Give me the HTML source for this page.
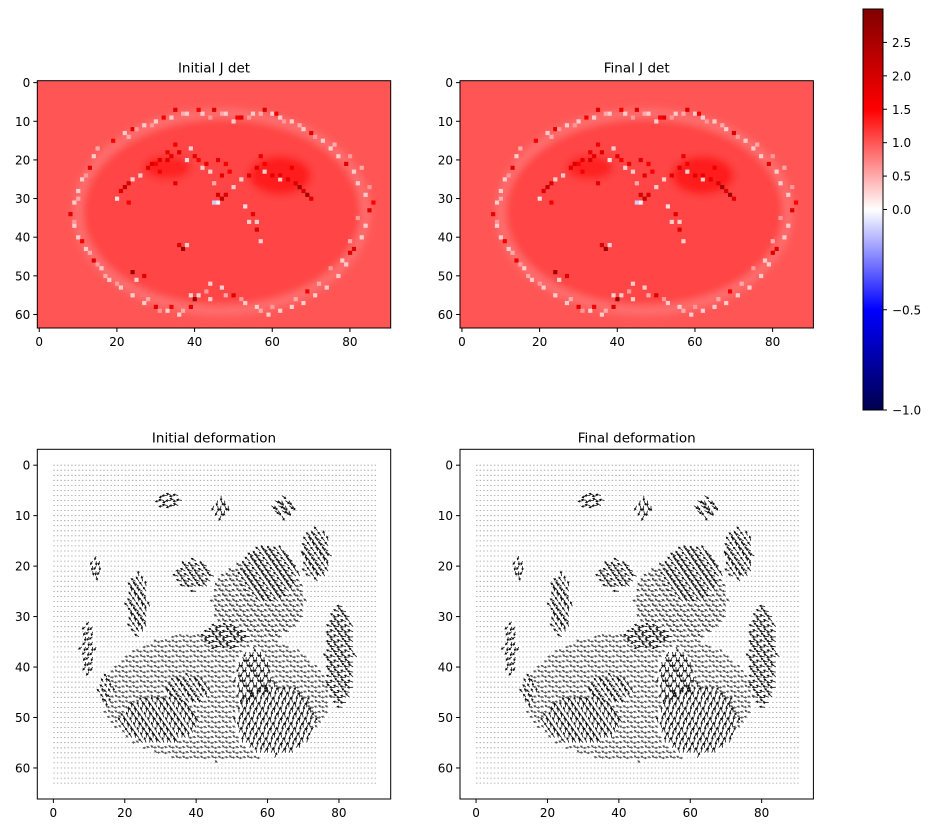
<!DOCTYPE html>
<html><head><meta charset="utf-8">
<style>
html,body{margin:0;padding:0;background:#fff;}
svg{display:block;font-family:"DejaVu Sans","Liberation Sans",sans-serif;}
</style></head>
<body>
<svg id="fig" width="935" height="833" viewBox="0 0 935 833" xmlns="http://www.w3.org/2000/svg">
<defs>
<linearGradient id="cbgrad" x1="0" y1="0" x2="0" y2="1">
<stop offset="0" stop-color="#800000"/>
<stop offset="0.25" stop-color="#ff0000"/>
<stop offset="0.5" stop-color="#ffffff"/>
<stop offset="0.75" stop-color="#0000ff"/>
<stop offset="1" stop-color="#00004d"/>
</linearGradient>
<filter id="soft" x="-10%" y="-10%" width="120%" height="120%"><feGaussianBlur stdDeviation="4"/></filter>
</defs>
<g id="root"></g>
</svg>
<script>
// ---- data ----
const jdetBase = 1.0;
const jdetInterior = 1.1;
const jdetBand = 0.85;
// speckle cells: x, y, value
const speckX = [22,24,27,30,34,35,38,42,45,48,50,52,55,58,60,62,65,68,70,73,75,77,79,81,82,84,85,84,83,81,79,77,74,71,68,65,62,59,56,53,50,47,44,41,39,36,33,30,27,24,21,18,16,14,12,10,9,8,9,10,11,13,14,
 20,21,22,23,24,26,28,29,31,33,34,36,38,39,40,42,44,47,46,47,48,46,50,52,54,56,58,60,62,64,66,67,68,69,70,55,56,56,57,36,37,38,24,25,27,40,39,44,53,54,45,35,23,78,80,
 23,25,29,32,37,41,44,47,51,54,57,61,63,67,71,76,80,83,85,86,82,80,75,72,69,66,60,57,52,48,43,37,34,31,28,20,17,15,13,11,9,10,12,15,19,33,35,46,48,45,57,58,65,31,30,49,62,41,43];
const speckY = [13,12,11,10,9,7,8,8,7,8,10,9,8,7,8,9,10,12,13,15,17,19,21,23,26,29,33,37,40,43,47,50,53,55,57,58,59,60,58,57,55,53,52,55,58,60,59,58,57,55,53,51,48,46,43,40,37,34,31,28,25,22,19,
 30,28,27,26,25,24,22,21,20,20,19,18,20,17,19,22,23,24,29,30,29,31,27,25,24,22,23,24,25,25,26,27,28,29,30,34,36,38,41,42,43,42,49,51,50,56,55,56,32,36,31,26,31,46,44,
 14,12,11,9,8,7,9,8,9,9,8,8,10,11,14,16,19,22,27,31,35,41,48,52,54,56,58,59,56,55,54,59,58,59,56,52,50,47,44,41,36,30,24,17,15,18,16,20,21,26,19,21,22,23,21,23,24,20,21];
const speckV = [0.3,1.8,0.3,0.3,0.3,1.9,0.3,0.3,1.9,0.3,0.3,1.8,0.3,1.9,0.3,0.3,0.3,0.3,1.8,0.3,0.3,0.3,1.8,0.3,0.3,0.3,1.9,0.3,0.3,1.8,0.3,0.3,0.3,0.3,0.3,0.3,0.3,0.3,0.3,0.3,1.8,0.3,0.3,0.3,1.9,0.3,0.3,1.8,0.3,0.3,0.3,0.3,0.3,1.8,0.3,0.3,0.3,1.8,0.3,0.3,0.3,1.8,0.3,
 0.2,1.8,2.2,1.9,0.3,0.3,1.8,1.9,1.8,1.9,1.8,1.9,0.2,0.3,1.8,0.3,0.3,1.8,2.0,2.2,1.9,0.1,0.3,0.3,1.8,1.9,0.3,1.8,0.3,1.8,1.9,2.6,1.9,2.6,1.8,1.8,0.3,1.9,0.3,1.9,2.6,0.3,2.6,0.3,1.8,2.7,0.3,0.3,0.2,0.3,-0.1,1.8,1.6,0.3,1.9,
 0.5,0.6,0.6,1.6,0.5,1.6,0.6,0.5,1.5,0.6,0.5,1.6,0.6,0.5,0.6,0.5,0.6,0.5,0.6,1.5,0.6,0.5,0.6,0.5,1.6,0.5,0.6,0.5,0.6,0.5,0.6,0.5,1.6,0.6,0.5,0.6,0.5,0.6,0.5,1.6,0.6,0.5,0.6,0.5,1.6,1.7,1.6,1.8,1.6,0.5,1.7,1.6,1.7,1.6,1.5,1.6,1.7,1.6,1.7];
// colorbar
const cbTicks = [2.5,2.0,1.5,1.0,0.5,0.0,-0.5,-1.0];
const cbLabels = ["2.5","2.0","1.5","1.0","0.5","0.0","\u22120.5","\u22121.0"];
const vmin=-1, vmax=3;
// axis ticks
const jTicksX=[0,20,40,60,80], jTicksY=[0,10,20,30,40,50,60];
const qTicksX=[0,20,40,60,80], qTicksY=[0,10,20,30,40,50,60];
// quiver regions: cx, cy, rx, ry, angle(deg), length(px), color
const blobCX=[30,62,81,61,74,40,24,49,12,10,47,33,64,15,38,56,46,58];
const blobCY=[51,51,38,22,18,22,28,34,20,36,8,7,8,45,45,42,46,27];
const blobRX=[11,11,4,8,4,5,3,6,1.5,2,2,3,3,2,6,5,32,13];
const blobRY=[4.5,7,10,5.5,5,3,6,2.5,2,5,2,1.5,2,3,3,6,13,8];
const blobAng=[-110,-80,200,220,230,210,235,190,100,120,90,180,50,240,230,90,200,210];
const blobLen=[5.5,5.5,5.5,6,5,5.5,5,6,4,4,5,5,5,4,5,5,3.2,3.8];
const blobCol=["#111","#111","#111","#111","#111","#111","#111","#111","#111","#111","#111","#111","#111","#111","#111","#111","#555","#444"];
// ---- drawing ----
const NS="http://www.w3.org/2000/svg";
const root=document.getElementById('root');
function mk(tag,attrs,parent){const e=document.createElementNS(NS,tag);for(const k in attrs)e.setAttribute(k,attrs[k]);(parent||root).appendChild(e);return e;}
function norm(v){return v>=0?0.5+0.5*Math.min(v,vmax)/vmax:0.5-0.5*Math.max(v,vmin)/vmin;}
function cmap(v){const n=norm(v);const st=[[0,0,0,76.5],[0.25,0,0,255],[0.5,255,255,255],[0.75,255,0,0],[1,127.5,0,0]];
 for(let i=0;i<4;i++){if(n<=st[i+1][0]){const f=(n-st[i][0])/(st[i+1][0]-st[i][0]);return 'rgb('+[1,2,3].map(k=>Math.round(st[i][k]+f*(st[i+1][k]-st[i][k]))).join(',')+')';}}return 'rgb(127,0,0)';}

function heatPanel(ox,title,name){
 const L=ox,T=80.7,W=353.4,H=247.3;const sx=W/91,sy=H/64;
 const X=v=>L+(v+0.5)*sx, Y=v=>T+(v+0.5)*sy;
 const g=mk('g',{});
 const clipId='c'+name;const cp=mk('clipPath',{id:clipId},g);mk('rect',{x:L,y:T,width:W,height:H},cp);
 const ig=mk('g',{'clip-path':'url(#'+clipId+')'},g);
 const bg=mk('rect',{x:L,y:T,width:W,height:H,fill:cmap(jdetBase)},ig);
 const sg=mk('g',{filter:'url(#soft)'},ig);
 mk('ellipse',{cx:X(47),cy:Y(33.5),rx:36*sx,ry:24*sy,fill:cmap(jdetInterior)},sg);
 mk('ellipse',{cx:X(47),cy:Y(33.5),rx:37*sx,ry:25.5*sy,fill:'none',stroke:cmap(jdetBand),'stroke-width':2.5*sx},sg);
 mk('ellipse',{cx:X(62),cy:Y(24),rx:8*sx,ry:5*sy,fill:cmap(1.35)},sg);
 mk('ellipse',{cx:X(33),cy:Y(22),rx:6*sx,ry:3*sy,fill:cmap(1.3)},sg);
 for(let i=0;i<speckX.length;i++){
  const r=mk('rect',{x:X(speckX[i]-0.5),y:Y(speckY[i]-0.5),width:sx+0.3,height:sy+0.3,fill:cmap(speckV[i])},ig);
  
  
 }
 mk('rect',{x:L,y:T,width:W,height:H,fill:'none',stroke:'#000','stroke-width':1},g);
 const t=mk('text',{x:L+W/2,y:T-8,'text-anchor':'middle','font-size':13.5},g);t.textContent=title;
 
 jTicksX.forEach(v=>{mk('line',{x1:X(v),x2:X(v),y1:T+H,y2:T+H+4,stroke:'#000'},g);const tx=mk('text',{x:X(v),y:T+H+18,'text-anchor':'middle','font-size':12},g);tx.textContent=v;});
 jTicksY.forEach(v=>{mk('line',{x1:L-4,x2:L,y1:Y(v),y2:Y(v),stroke:'#000'},g);const tx=mk('text',{x:L-7,y:Y(v)+4.5,'text-anchor':'end','font-size':12},g);tx.textContent=v;});
}
function quiverPanel(ox,title,name){
 const L=ox,T=449.3,W=353.4,H=349.7;const sx=W/99,sy=H/69.3;
 const X=v=>L+(v+4.5)*sx, Y=v=>T+(v+3.15)*sy;
 const g=mk('g',{});
 let dots='';const paths={};
 for(let j=0;j<64;j++)for(let i=0;i<91;i++){
  let b=-1;for(let k=0;k<blobCX.length;k++){const dx=(i-blobCX[k])/blobRX[k],dy=(j-blobCY[k])/blobRY[k];if(dx*dx+dy*dy<=1){b=k;break;}}
  const px=X(i),py=Y(j);
  if(b<0){dots+='M'+px.toFixed(1)+' '+py.toFixed(1)+'h1.4';continue;}
  const a=(blobAng[b]+((i*37+j*53)%5-2)*12)*Math.PI/180,len=blobLen[b];
  const ex=px+len*Math.cos(a),ey=py+len*Math.sin(a);
  const h=2,ha=0.5;
  let d='M'+px.toFixed(1)+' '+py.toFixed(1)+'L'+ex.toFixed(1)+' '+ey.toFixed(1)
   +'M'+(ex-h*Math.cos(a-ha)).toFixed(1)+' '+(ey-h*Math.sin(a-ha)).toFixed(1)+'L'+ex.toFixed(1)+' '+ey.toFixed(1)+'L'+(ex-h*Math.cos(a+ha)).toFixed(1)+' '+(ey-h*Math.sin(a+ha)).toFixed(1);
  paths[blobCol[b]]=(paths[blobCol[b]]||'')+d;
 }
 const dp=mk('path',{d:dots,stroke:'#9a9a9a','stroke-width':0.8,fill:'none'},g);
 for(const c in paths){const p=mk('path',{d:paths[c],stroke:c,'stroke-width':0.8,fill:'none'},g);}
 mk('rect',{x:L,y:T,width:W,height:H,fill:'none',stroke:'#000','stroke-width':1},g);
 const t=mk('text',{x:L+W/2,y:T-7,'text-anchor':'middle','font-size':13.5},g);t.textContent=title;
 
 qTicksX.forEach(v=>{mk('line',{x1:X(v),x2:X(v),y1:T+H,y2:T+H+4,stroke:'#000'},g);const tx=mk('text',{x:X(v),y:T+H+18,'text-anchor':'middle','font-size':12},g);tx.textContent=v;});
 qTicksY.forEach(v=>{mk('line',{x1:L-4,x2:L,y1:Y(v),y2:Y(v),stroke:'#000'},g);const tx=mk('text',{x:L-7,y:Y(v)+4.5,'text-anchor':'end','font-size':12},g);tx.textContent=v;});
}
heatPanel(37.3,'Initial J det','initial-jdet-panel');
heatPanel(460,'Final J det','final-jdet-panel');
quiverPanel(37.3,'Initial deformation','initial-deformation-panel');
quiverPanel(460,'Final deformation','final-deformation-panel');
// colorbar
(function(){
 const L=863,T=9,W=20,H=401;
 const g=mk('g',{});
 mk('rect',{x:L,y:T,width:W,height:H,fill:'url(#cbgrad)',stroke:'#000','stroke-width':1},g);
 const Y=v=>T+(1-norm(v))*H;
 cbTicks.forEach((v,i)=>{mk('line',{x1:L+W,x2:L+W+4,y1:Y(v),y2:Y(v),stroke:'#000'},g);const tx=mk('text',{x:L+W+9,y:Y(v)+4.5,'font-size':12},g);tx.textContent=cbLabels[i];});
})();
</script>
</body></html>
